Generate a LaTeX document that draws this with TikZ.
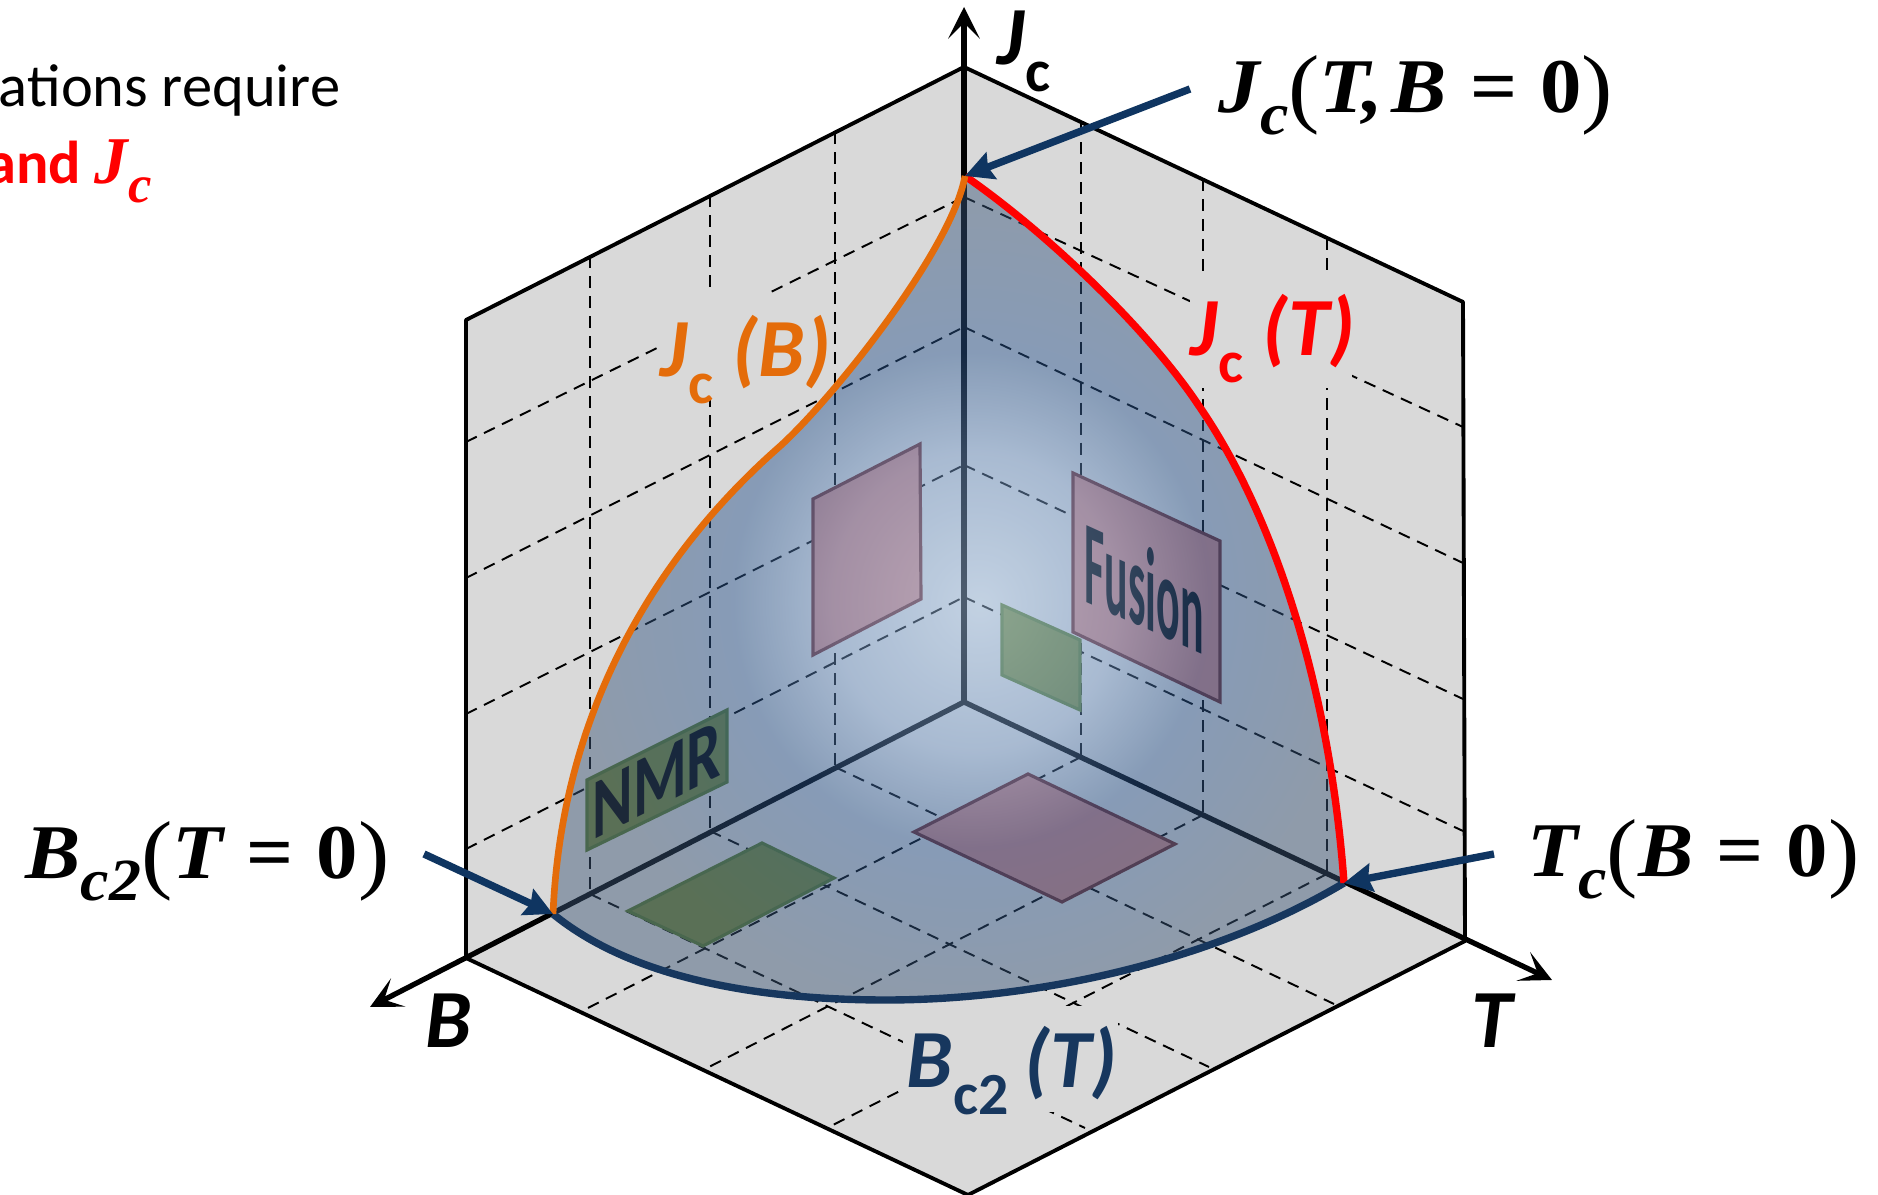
\documentclass[tikz,border=0pt]{standalone}
\usepackage{graphicx}
\usepackage{fontspec}
\setmainfont{Carlito}
\newfontfamily\eqfont{Liberation Serif}
\usetikzlibrary{arrows.meta}
\definecolor{wallgray}{HTML}{D9D9D9}
\definecolor{bluenavy}{HTML}{17375E}
\definecolor{callnavy}{HTML}{0F3561}
\definecolor{jcorange}{HTML}{E46C0A}
\definecolor{pinkpatch}{HTML}{CF8884}
\definecolor{pinkedge}{HTML}{6E2A2A}
\definecolor{greenpatch}{HTML}{75873A}
\definecolor{greenedge}{HTML}{56762A}
\definecolor{glowa}{HTML}{AACAEE}
\definecolor{glowb}{HTML}{7399CA}
\definecolor{glowc}{HTML}{2B5791}
\definecolor{glowd}{HTML}{3C5777}
\pgfdeclareradialshading{surfglow}{\pgfpoint{2bp}{-1bp}}{color(0bp)=(glowa); color(9bp)=(glowb); color(15bp)=(glowc); color(25bp)=(glowd); color(50bp)=(glowd)}
\newcommand{\capfont}{\fontsize{23.5}{23.5}\selectfont\bfseries\itshape}
\newcommand{\subc}[1]{\raisebox{-.32em}{\fontsize{17}{17}\selectfont\upshape #1}}
\newcommand{\eqfontsz}{\fontsize{22}{22}\selectfont\eqfont}
\newcommand{\eqv}[1]{{\bfseries\itshape #1}}
\newcommand{\eqs}[1]{\raisebox{-.28em}{\fontsize{17}{17}\selectfont\bfseries\itshape #1}}
\newcommand{\eqp}[1]{\raisebox{-.04em}{\fontsize{25}{25}\selectfont #1}}
\newcommand{\eqeq}{\hspace{.28em}{\bfseries =}\hspace{.28em}}
\begin{document}
\begin{tikzpicture}[x=0.01cm, y=-0.01cm, griddash/.style={dash pattern=on 3.4pt off 2.3pt, line width=0.55pt},
        axisline/.style={line width=1.5pt, -{Stealth[length=9pt,width=9pt,inset=4.5pt]}},
        callout/.style={callnavy, line width=2.1pt, -{Stealth[length=8pt,width=8pt,inset=1pt]}},
        pinkbox/.style={fill=pinkpatch, draw=pinkedge, line width=0.9pt},
        greenbox/.style={fill=greenpatch, draw=greenedge, line width=0.9pt},
        every node/.style={inner sep=0pt}]
        \useasboundingbox (0,0) rectangle (1878,1195);
        \fill[white] (0,0) rectangle (1878,1195);

        \draw[fill=wallgray, line width=1.1pt, line join=round] (964,67) -- (466,320) -- (466,958) -- (968,1195) -- (1465,941) -- (1463,302) -- cycle;

        \foreach \x/\ya/\yb in {590/256/894, 710/195/831, 835/132/767, 1081/122/757, 1203/179/815, 1327/238/874}
            \draw[griddash] (\x,\ya) -- (\x,\yb);
        \foreach \ya/\yb in {442/197, 578/327, 714/465, 849/597}
            \draw[griddash] (466,\ya) -- (964,\yb);
        \foreach \ya/\yb in {197/427, 327/563, 465/699, 597/831}
            \draw[griddash] (964,\ya) -- (1463,\yb);
        \draw[griddash] (835,767) -- (1334,1004);
        \draw[griddash] (710,831) -- (1209,1067);
        \draw[griddash] (590,894) -- (1085,1128);
        \draw[griddash] (1081,757) -- (584,1010);
        \draw[griddash] (1203,815) -- (705,1069);
        \draw[griddash] (1327,874) -- (829,1127);

        \fill[wallgray] (658,293) rectangle (830,398);
        \fill[wallgray] (1190,272) rectangle (1352,388);
        \fill[wallgray] (903,1006) rectangle (1118,1112);

        \node[anchor=base east, font=\fontsize{17.2}{17.2}\selectfont] (needtext) at (341,107) {ations require};
        \node[anchor=base east, font=\fontsize{17.2}{17.2}\selectfont\bfseries, text=red] (andtext) at (82,184) {and};
        \node[anchor=base west, font=\fontsize{19}{19}\selectfont\eqfont, text=red] (jcred) at (94,184) {\eqv{J}\raisebox{-.28em}{\fontsize{15}{15}\selectfont\bfseries\itshape c}};

        \coordinate (origin) at (964,702);
        \coordinate (jctip) at (964,7);
        \coordinate (btip) at (370,1007);
        \coordinate (ttip) at (1552,980);
        \draw[axisline] (origin) -- (jctip);
        \draw[axisline] (origin) -- (btip);
        \draw[axisline] (origin) -- (ttip);

        \filldraw[pinkbox] (813,499) -- (920,444) -- (921,599) -- (813,655) -- cycle;
        \filldraw[pinkbox] (1073,473) -- (1220,541) -- (1220,702) -- (1073,632) -- cycle;
        \filldraw[pinkbox] (1028,774) -- (1175,844) -- (1062,902) -- (914,832) -- cycle;
        \filldraw[greenbox] (587,780) -- (727,710) -- (727,782) -- (587,850) -- cycle;
        \filldraw[greenbox] (1002,605) -- (1080,640) -- (1080,710) -- (1002,675) -- cycle;
        \filldraw[greenbox] (762,843) -- (834,878) -- (703,946) -- (628,911) -- cycle;
        \node[cm={1,-0.455,0,2.7,(1144,587)}, transform shape, font=\fontsize{12.5}{12.5}\selectfont\bfseries] (fusion) at (0,0) {Fusion};
        \node[cm={1,0.5,0,1.4,(657,780)}, transform shape, font=\fontsize{17.5}{17.5}\selectfont\bfseries] (nmr) at (0,0) {NMR};

        \coordinate (jcpeak) at (965,176);
        \coordinate (bczero) at (553,914);
        \coordinate (tczero) at (1344,883);
        \coordinate (jbmid) at (778,448);
        \coordinate (jtmid) at (1199,406);
        \coordinate (bcmid) at (886,1000);

        \shade[shading=surfglow, opacity=0.47] (jcpeak) .. controls (952,250) and (830,402) .. (jbmid) .. controls (685,530) and (563,680) .. (bczero)
            .. controls (640,985) and (780,1000) .. (bcmid) .. controls (1040,1000) and (1215,960) .. (tczero)
            .. controls (1330,690) and (1275,516) .. (jtmid) .. controls (1150,332) and (1050,235) .. (jcpeak) -- cycle;

        \draw[bluenavy, line width=2.1pt] (bczero) .. controls (640,985) and (780,1000) .. (bcmid) .. controls (1040,1000) and (1215,960) .. (tczero);
        \draw[red, line width=2.1pt] (tczero) .. controls (1330,690) and (1275,516) .. (jtmid) .. controls (1150,332) and (1050,235) .. (jcpeak);
        \draw[jcorange, line width=1.9pt] (jcpeak) .. controls (952,250) and (830,402) .. (jbmid) .. controls (685,530) and (563,680) .. (bczero);

        \node[anchor=base west, font=\capfont] (jcaxis) at (997,65) {J\subc{c}};
        \node[anchor=base west, font=\capfont] (baxis) at (425,1048) {B};
        \node[anchor=base west, font=\capfont] (taxis) at (1471,1048) {T};
        \node[anchor=base west, font=\capfont, text=jcorange] (jcb) at (660,377) {J\subc{c}\hspace{.24em}(B)};
        \node[anchor=base west, font=\capfont, text=red] (jct) at (1190,356) {J\subc{c}\hspace{.24em}(T)};
        \node[anchor=base west, font=\capfont, text=bluenavy] (bct) at (906,1088) {B\subc{c2}\hspace{.2em}(T)};

        \node[anchor=base west, font=\eqfontsz] (jcval) at (1218,113) {\scalebox{1.07}[1]{\eqv{J}\eqs{c}\eqp{(}\eqv{T}\eqv{,}\hspace{.1em}\eqv{B}\eqeq{\bfseries 0}\eqp{)}}};
        \node[anchor=base west, font=\eqfontsz] (tcval) at (1527,877) {\scalebox{1.07}[1]{\eqv{T}\eqs{c}\eqp{(}\eqv{B}\eqeq{\bfseries 0}\eqp{)}}};
        \node[anchor=base west, font=\eqfontsz] (bcval) at (25,879) {\scalebox{1.07}[1]{\eqv{B}\eqs{c2}\eqp{(}\eqv{T}\eqeq{\bfseries 0}\eqp{)}}};

        \coordinate (jcstart) at (1190,89);
        \coordinate (bcstart) at (424,854);
        \coordinate (tcstart) at (1494,854);
        \draw[callout] (jcstart) -- (jcpeak);
        \draw[callout] (bcstart) -- (bczero);
        \draw[callout] (tcstart) -- (tczero);
    \end{tikzpicture}
\end{document}
